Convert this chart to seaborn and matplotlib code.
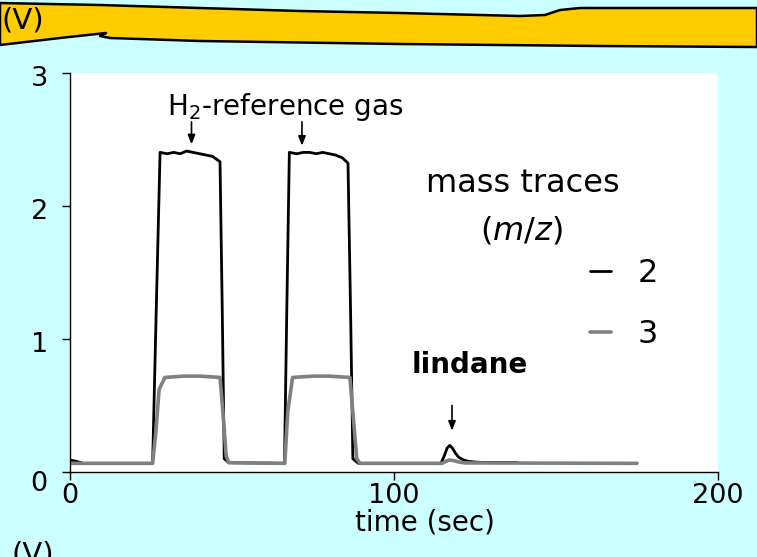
import numpy as np
import pandas as pd
import matplotlib
matplotlib.use("Agg")
import matplotlib.pyplot as plt
import seaborn as sns
from matplotlib.path import Path
from matplotlib.patches import PathPatch
from matplotlib.transforms import ScaledTranslation

# ---------------- data ----------------
time_m2 = [0, 2, 4, 25.5, 26.6, 27.8, 30, 32, 34, 36, 38, 40, 42, 44, 46.3, 47.0, 47.6, 49,
           66.2, 66.9, 67.7, 70, 72, 74, 76, 78, 80, 82, 84, 85.8, 86.6, 87.3, 89,
           114.5, 115.5, 116.4, 117.2, 118, 119, 120, 121.5, 123, 125, 127, 138]
sig_m2 = [0.09, 0.08, 0.065, 0.065, 1.2, 2.40, 2.39, 2.40, 2.39, 2.41, 2.40, 2.39, 2.38, 2.37, 2.33, 1.2, 0.10, 0.07,
          0.065, 1.2, 2.40, 2.39, 2.40, 2.40, 2.39, 2.40, 2.39, 2.38, 2.36, 2.32, 1.2, 0.10, 0.065,
          0.065, 0.12, 0.18, 0.20, 0.18, 0.14, 0.11, 0.09, 0.08, 0.075, 0.072, 0.072]

time_m3 = [0, 25.5, 26.5, 27.5, 29.3, 35, 40, 46.3, 47.2, 48.2, 49,
           66.3, 67.2, 68.7, 75, 80, 86.4, 87.3, 88.5, 89.5,
           114.8, 116, 117, 118.5, 120, 122, 175]
sig_m3 = [0.065, 0.065, 0.30, 0.62, 0.71, 0.72, 0.72, 0.71, 0.45, 0.12, 0.07,
          0.065, 0.45, 0.71, 0.72, 0.72, 0.71, 0.45, 0.10, 0.065,
          0.065, 0.08, 0.09, 0.085, 0.075, 0.068, 0.065]

mass_labels = ["2", "3"]
x_ticks = [0, 100, 200]
y_ticks = [0, 1, 2, 3]

BG = "#CCFFFF"
W, H = 757, 557

df = pd.concat([
    pd.DataFrame({"time": time_m2, "signal": sig_m2, "mass": mass_labels[0]}),
    pd.DataFrame({"time": time_m3, "signal": sig_m3, "mass": mass_labels[1]}),
], ignore_index=True)

sns.set_style("white")
plt.rcParams["font.family"] = ["DejaVu Sans"]
plt.rcParams["text.color"] = "black"
plt.rcParams["mathtext.fontset"] = "dejavusans"

fig = plt.figure(figsize=(W / 100, H / 100), dpi=100, facecolor=BG)

def fx(px):
    return px / W

def fy(py):
    return 1 - py / H

ax = fig.add_axes([fx(70), fy(472), fx(718) - fx(70), fy(72.5) - fy(472)])
ax.set_facecolor("white")

sns.lineplot(data=df, x="time", y="signal", hue="mass", palette={"2": "black", "3": "#808080"},
             sort=False, estimator=None, legend=False, ax=ax, linewidth=2.0)
ax.lines[1].set_linewidth(2.6)

ax.set_xlim(0, 200)
ax.set_ylim(0, 3)
ax.set_xticks(x_ticks)
ax.set_yticks(y_ticks)
ax.set_xticklabels([str(v) for v in x_ticks])
ax.set_yticklabels([str(v) for v in y_ticks])
ax.set_xlabel("")
ax.set_ylabel("")
for s in ["top", "right"]:
    ax.spines[s].set_visible(False)
for s in ["left", "bottom"]:
    ax.spines[s].set_color("black")
    ax.spines[s].set_linewidth(1.0)
ax.tick_params(axis="both", direction="out", length=6, width=1, color="black",
               labelsize=19.5, labelcolor="black")
ax.tick_params(axis="y", pad=10, left=True)
ax.tick_params(axis="x", pad=2, bottom=True)

for i, lab in enumerate(ax.get_yticklabels()):
    dy = -9 if i == 0 else -3
    lab.set_transform(lab.get_transform() + ScaledTranslation(0, dy / 100, fig.dpi_scale_trans))

fig.text(fx(425), fy(523), "time (sec)", ha="center", va="center", fontsize=20)

# annotations
ap = dict(arrowstyle="-|>,head_length=0.55,head_width=0.22", color="black", lw=1.2)
ax.annotate("", xy=(37.5, 2.44), xytext=(37.5, 2.65), arrowprops=ap)
ax.annotate("", xy=(71.6, 2.43), xytext=(71.6, 2.65), arrowprops=ap)
ax.annotate("", xy=(117.9, 0.29), xytext=(117.9, 0.52), arrowprops=ap)
fig.text(fx(285), fy(107), r"H$_2$-reference gas", ha="center", va="center", fontsize=20)
fig.text(fx(470), fy(365), "lindane", ha="center", va="center", fontsize=20, fontweight="bold")

# legend
fig.text(fx(523), fy(183), "mass traces", ha="center", va="center", fontsize=23)
fig.text(fx(521), fy(230), r"($\mathit{m/z}$)", ha="center", va="center", fontsize=23)
leg = ax.legend(handles=ax.lines[:2], labels=mass_labels, loc="upper left",
                bbox_to_anchor=(fx(590), fy(258)), bbox_transform=fig.transFigure,
                frameon=False, fontsize=23, handlelength=0.65, handletextpad=0.85,
                labelspacing=0.95, borderpad=0, borderaxespad=0)

# decorative yellow banner at top
top_pts = [(0, 3), (100, 5), (200, 8), (300, 11), (400, 13), (520, 16), (545, 15),
           (560, 10), (580, 8), (757, 8)]
bot_pts = [(757, 47), (600, 46), (400, 44), (200, 41), (110, 38), (100, 36), (106, 33),
           (60, 38), (0, 45)]
pts = top_pts + bot_pts
verts = [(fx(x), fy(y)) for x, y in pts] + [(fx(0), fy(3))]
codes = [Path.MOVETO] + [Path.LINETO] * (len(pts) - 1) + [Path.CLOSEPOLY]
banner = PathPatch(Path(verts, codes), facecolor="#FFCC00", edgecolor="black", lw=1.8,
                   transform=fig.transFigure, joinstyle="round")
fig.patches.append(banner)
fig.text(fx(2), fy(21), "(V)", ha="left", va="center", fontsize=21)
fig.text(fx(12), fy(541), "(V)", ha="left", va="top", fontsize=21)

fig.savefig("out.png", dpi=100, facecolor=BG)
